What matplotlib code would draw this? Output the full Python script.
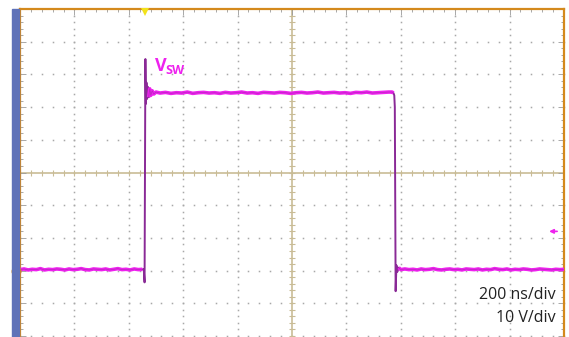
import numpy as np
import matplotlib.pyplot as plt
from matplotlib.patches import Rectangle

# scope settings
T_DIV = 200      # ns/div
V_DIV = 10       # V/div
N_XDIV = 10
N_YDIV = 10
V_CENTER = 30    # volts at screen centre
TRIG_T = 460     # ns
TRIG_V = 12      # V
GND_V = 0

# switch-node trace (time in ns, volts)
t_low1 = [0, 15, 30, 45, 60, 75, 90, 105, 120, 135, 150, 165, 180, 195, 210, 225,
          240, 255, 270, 285, 300, 315, 330, 345, 360, 375, 390, 405, 420, 435,
          450]
v_low1 = [0.3, 0.5, 0.2, 0.4, 0.3, 0.6, 0.2, 0.4, 0.3, 0.5, 0.4, 0.2, 0.5, 0.3,
          0.4, 0.6, 0.3, 0.2, 0.5, 0.4, 0.3, 0.5, 0.2, 0.4, 0.6, 0.3, 0.4, 0.2,
          0.5, 0.3, 0.4]
t_rise = [455, 458, 461, 463, 465, 467, 470, 473, 477, 481, 486, 492, 500]
v_rise = [0.4, -3.6, 64.7, 51.0, 57.5, 52.5, 56.2, 53.0, 55.6, 53.6, 55.0, 54.0,
          54.6]
t_high = [515, 535, 555, 575, 595, 615, 635, 655, 675, 695, 715, 735, 755, 775,
          795, 815, 835, 855, 875, 895, 915, 935, 955, 975, 995, 1015, 1035,
          1055, 1075, 1095, 1115, 1135, 1155, 1175, 1195, 1215, 1235, 1255,
          1275, 1295, 1315, 1335, 1355, 1368]
v_high = [54.3, 54.5, 54.2, 54.4, 54.3, 54.6, 54.2, 54.4, 54.5, 54.3, 54.4, 54.2,
          54.5, 54.3, 54.4, 54.6, 54.3, 54.4, 54.2, 54.5, 54.4, 54.3, 54.5, 54.4,
          54.2, 54.4, 54.5, 54.3, 54.4, 54.6, 54.3, 54.4, 54.5, 54.3, 54.4, 54.2,
          54.5, 54.4, 54.6, 54.3, 54.4, 54.5, 54.6, 54.6]
t_fall = [1373, 1376, 1378, 1381, 1384, 1387, 1392, 1400]
v_fall = [54.3, 53.6, 50.0, -6.3, 1.6, -0.4, 0.9, 0.3]
t_low2 = [1415, 1430, 1445, 1460, 1475, 1490, 1505, 1520, 1535, 1550, 1565, 1580,
          1595, 1610, 1625, 1640, 1655, 1670, 1685, 1700, 1715, 1730, 1745, 1760,
          1775, 1790, 1805, 1820, 1835, 1850, 1865, 1880, 1895, 1910, 1925, 1940,
          1955, 1970, 1985, 2000]
v_low2 = [0.5, 0.3, 0.4, 0.2, 0.5, 0.3, 0.4, 0.6, 0.3, 0.2, 0.4, 0.5, 0.3, 0.4,
          0.2, 0.5, 0.4, 0.3, 0.5, 0.2, 0.4, 0.3, 0.6, 0.4, 0.3, 0.5, 0.2, 0.4,
          0.3, 0.5, 0.4, 0.2, 0.3, 0.5, 0.4, 0.3, 0.2, 0.4, 0.3, 0.4]

t = t_low1 + t_rise + t_high + t_fall + t_low2
v = v_low1 + v_rise + v_high + v_fall + v_low2

ORANGE = "#d4891c"
BLUE = "#5f72b8"
TAN = "#c9bc96"
MAG = "#ee22ee"
PURPLE = "#8a2a96"

W, H = 569, 337
fig = plt.figure(figsize=(W / 100, H / 100), dpi=100)
plt.rcParams["font.family"] = ["Open Sans", "DejaVu Sans"]

# screen area in pixels
x0, x1 = 20, 564
y_top, y_bot = 9, 336
ax = fig.add_axes([x0 / W, 1 - y_bot / H, (x1 - x0) / W, (y_bot - y_top) / H])
tmax = T_DIV * N_XDIV
vmin = V_CENTER - V_DIV * N_YDIV / 2
vmax = V_CENTER + V_DIV * N_YDIV / 2
ax.set_xlim(0, tmax)
ax.set_ylim(vmin, vmax)

# blue bar left of the screen
fig.patches.append(Rectangle((12 / W, 0), 7 / W, 1 - y_top / H,
                             transform=fig.transFigure, color=BLUE, zorder=0))

for side in ["top", "left", "right"]:
    ax.spines[side].set_color(ORANGE)
    ax.spines[side].set_linewidth(1.6)
ax.spines["bottom"].set_visible(False)

ax.set_xticks(np.arange(0, tmax + 1, T_DIV))
ax.set_xticks(np.arange(0, tmax + 1, T_DIV / 5), minor=True)
ax.set_yticks(np.arange(vmin, vmax + 1, V_DIV))
ax.set_yticks(np.arange(vmin, vmax + 1, V_DIV / 5), minor=True)
ax.tick_params(which="both", direction="in", top=True, right=True, bottom=False,
               labelleft=False, labelbottom=False, color="#9a9a9a", width=0.6)
ax.tick_params(which="major", length=4)
ax.tick_params(which="minor", length=2.5)

# dotted graticule
for k in range(1, N_XDIV):
    tx = k * T_DIV
    if tx == tmax / 2:
        continue
    ys = np.arange(vmin, vmax + 0.1, V_DIV / 5)
    ax.plot([tx] * len(ys), ys, ls="none", marker="s", ms=1.1, mew=0,
            color="#a8a8a8", zorder=1)
for k in range(0, N_YDIV):
    vy = vmin + k * V_DIV
    if vy == V_CENTER:
        continue
    xs = np.arange(0, tmax + 1, T_DIV / 5)
    ax.plot(xs, [vy] * len(xs), ls="none", marker="s", ms=1.1, mew=0,
            color="#a8a8a8", zorder=1, clip_on=False)

# centre cross with small ticks
ax.axhline(V_CENTER, color=TAN, lw=1.2, zorder=1)
ax.axvline(tmax / 2, color=TAN, lw=1.2, zorder=1)
xs = np.arange(0, tmax + 1, T_DIV / 5)
ax.plot(xs, [V_CENTER] * len(xs), ls="none", marker="|", ms=4, mew=0.8,
        color=TAN, zorder=1)
ys = np.arange(vmin, vmax + 0.1, V_DIV / 5)
ax.plot([tmax / 2] * len(ys), ys, ls="none", marker="_", ms=4, mew=0.8,
        color=TAN, zorder=1)

# trace: thin purple edges, bright magenta on the flat parts
ax.plot(t, v, color=PURPLE, lw=1.4, zorder=3)
n1 = len(t_low1)
n2 = n1 + len(t_rise)
n3 = n2 + len(t_high)
n4 = n3 + len(t_fall)
for a, b in [(0, n1), (n2 - 6, n3 + 1), (n4 - 2, len(t))]:
    ax.plot(t[a:b], v[a:b], color=MAG, lw=2.6, zorder=4, solid_capstyle="butt")
    ax.plot(t[a:b], v[a:b], color=PURPLE, lw=0.5, alpha=0.55, zorder=5)

# markers: trigger time, trigger level, channel ground
ax.plot([TRIG_T], [vmax - 0.8], marker="v", ms=6, color="#f2e21a", mew=0,
        zorder=6, clip_on=False)
ax.annotate("", xy=(1935, TRIG_V), xytext=(1985, TRIG_V),
            arrowprops=dict(arrowstyle="-|>", color=MAG, lw=1.2,
                            mutation_scale=6))
ax.plot([-15], [GND_V], marker="o", ms=6, mfc=MAG, mec=ORANGE, mew=1.2,
        zorder=6, clip_on=False)

# labels
ax.text(496, 61, "V", color=MAG, fontsize=13, fontweight="bold", va="baseline")
ax.text(533, 60, "SW", color=MAG, fontsize=9, fontweight="bold", va="baseline")
fig.text(556 / W, 1 - 299 / H, "200 ns/div", ha="right", va="baseline",
         fontsize=11.5, color="#222222")
fig.text(556 / W, 1 - 322 / H, "10 V/div", ha="right", va="baseline",
         fontsize=11.5, color="#222222")

fig.savefig("out.png", dpi=100)
